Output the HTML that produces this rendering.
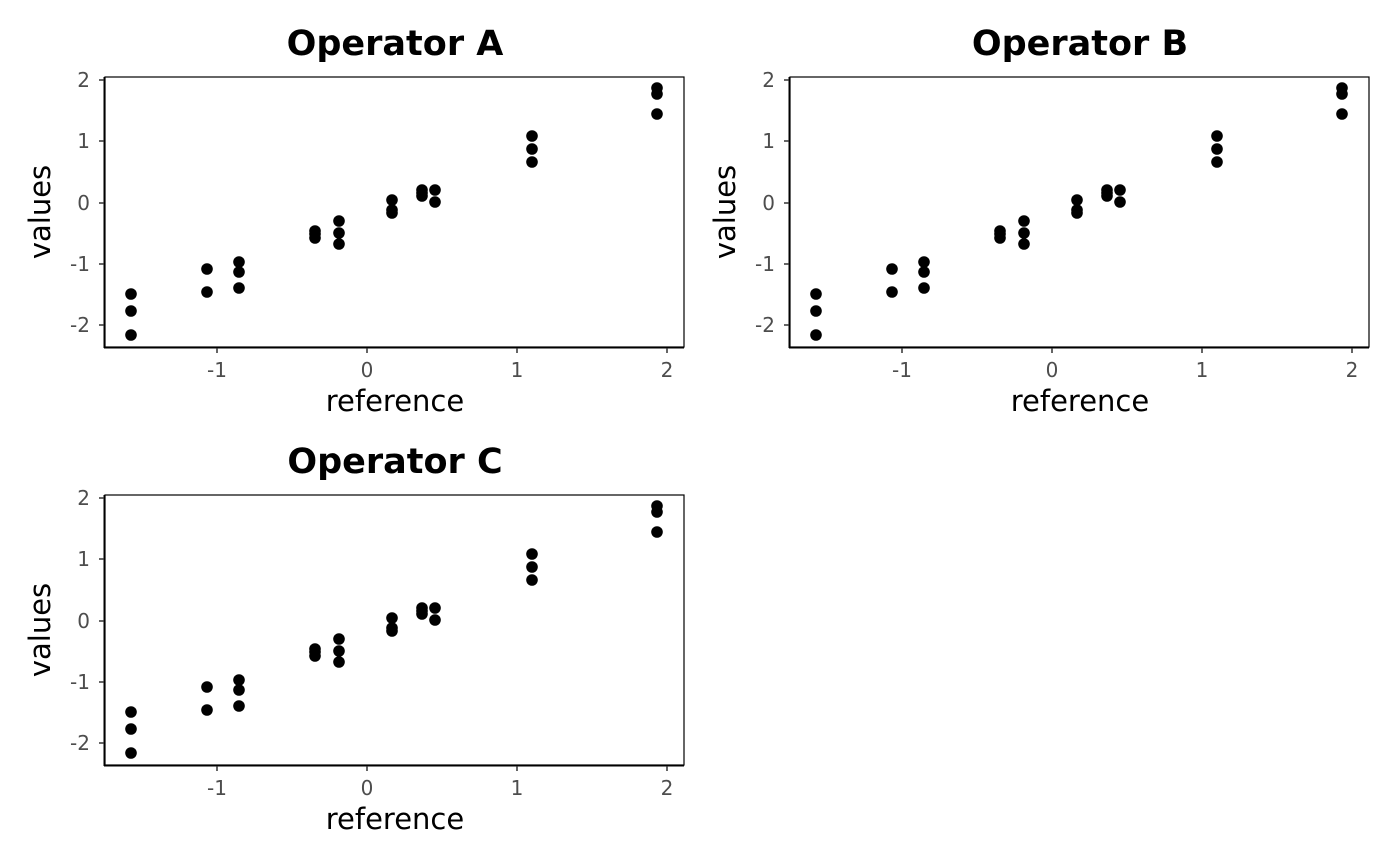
<!DOCTYPE html>
<html><head><meta charset="utf-8"><style>html,body{margin:0;padding:0;background:#fff}svg{display:block}</style></head>
<body>
<svg width="1400" height="866" xmlns="http://www.w3.org/2000/svg" font-family="DejaVu Sans, Liberation Sans, sans-serif">
<defs>
<g id="panel">
  <rect x="105" y="77" width="579" height="270" fill="#fff" stroke="#000" stroke-width="1.2"/>
  <line x1="104.5" y1="77" x2="104.5" y2="348" stroke="#000" stroke-width="2"/>
  <line x1="104" y1="347.5" x2="684" y2="347.5" stroke="#000" stroke-width="2"/>
  <g stroke="#333" stroke-width="1.5">
    <line x1="99" y1="80" x2="104" y2="80"/><line x1="99" y1="141" x2="104" y2="141"/>
    <line x1="99" y1="203" x2="104" y2="203"/><line x1="99" y1="264" x2="104" y2="264"/>
    <line x1="99" y1="325" x2="104" y2="325"/>
    <line x1="217" y1="348" x2="217" y2="353"/><line x1="367" y1="348" x2="367" y2="353"/>
    <line x1="517" y1="348" x2="517" y2="353"/><line x1="667" y1="348" x2="667" y2="353"/>
  </g>
  <g fill="#4d4d4d" font-size="20" text-anchor="end">
    <text x="90" y="87">2</text><text x="90" y="148">1</text><text x="90" y="210">0</text>
    <text x="90" y="271">-1</text><text x="90" y="332">-2</text>
  </g>
  <g fill="#4d4d4d" font-size="20" text-anchor="middle">
    <text x="217" y="377">-1</text><text x="367" y="377">0</text><text x="517" y="377">1</text><text x="667" y="377">2</text>
  </g>
  <text x="395" y="411" font-size="29" text-anchor="middle">reference</text>
  <text transform="translate(50,212) rotate(-90)" font-size="29" text-anchor="middle">values</text>
  <g fill="#000">
    <circle cx="131" cy="294" r="5.8"/><circle cx="131" cy="311" r="5.8"/><circle cx="131" cy="335" r="5.8"/>
    <circle cx="207" cy="269" r="5.8"/><circle cx="207" cy="292" r="5.8"/>
    <circle cx="239" cy="262" r="5.8"/><circle cx="239" cy="272" r="5.8"/><circle cx="239" cy="288" r="5.8"/>
    <circle cx="315" cy="231" r="5.8"/><circle cx="315" cy="234" r="5.8"/><circle cx="315" cy="238" r="5.8"/>
    <circle cx="339" cy="221" r="5.8"/><circle cx="339" cy="233" r="5.8"/><circle cx="339" cy="244" r="5.8"/>
    <circle cx="392" cy="200" r="5.8"/><circle cx="392" cy="210" r="5.8"/><circle cx="392" cy="213" r="5.8"/>
    <circle cx="422" cy="190" r="5.8"/><circle cx="422" cy="193" r="5.8"/><circle cx="422" cy="196" r="5.8"/>
    <circle cx="435" cy="190" r="5.8"/><circle cx="435" cy="202" r="5.8"/>
    <circle cx="532" cy="136" r="5.8"/><circle cx="532" cy="149" r="5.8"/><circle cx="532" cy="162" r="5.8"/>
    <circle cx="657" cy="88" r="5.8"/><circle cx="657" cy="94" r="5.8"/><circle cx="657" cy="114" r="5.8"/>
  </g>
</g>
</defs>
<use href="#panel"/>
<text x="395" y="55" font-size="35" font-weight="bold" text-anchor="middle">Operator A</text>
<use href="#panel" x="685"/>
<text x="1080" y="55" font-size="35" font-weight="bold" text-anchor="middle">Operator B</text>
<use href="#panel" y="418"/>
<text x="395" y="473" font-size="35" font-weight="bold" text-anchor="middle">Operator C</text>
</svg>
</body></html>
